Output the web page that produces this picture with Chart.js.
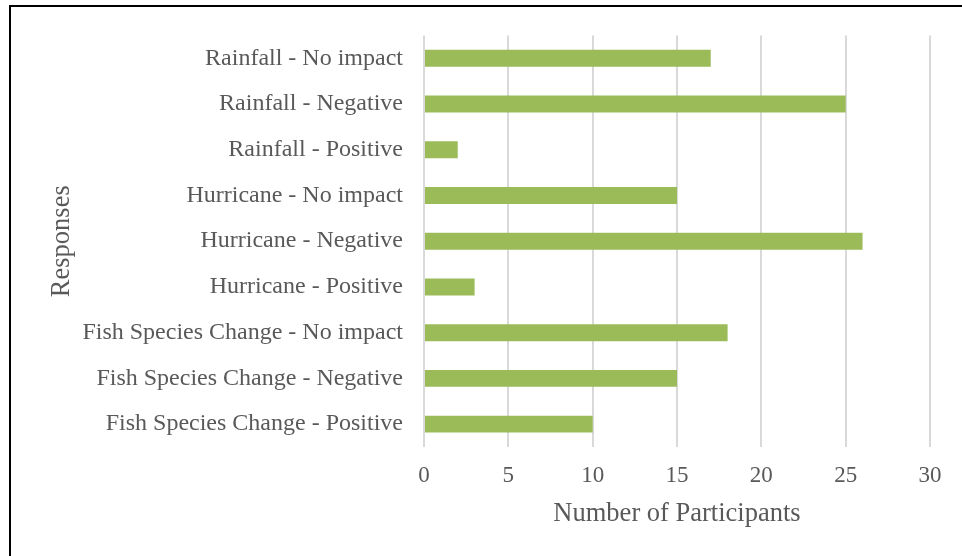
<!DOCTYPE html>
<html>
<head>
<meta charset="utf-8">
<script src="https://cdn.jsdelivr.net/npm/chart.js@4/dist/chart.umd.min.js"></script>
<style>
html,body{margin:0;padding:0;background:#fff;}
#wrap{position:relative;width:962px;height:556px;}
#frame{position:absolute;left:9px;top:5px;width:960px;height:560px;border-top:2px solid #000;border-left:2px solid #000;box-sizing:border-box;pointer-events:none;}
canvas{position:absolute;left:0;top:0;}
</style>
</head>
<body>
<div id="wrap">
<canvas id="c" width="962" height="556"></canvas>
<div id="frame"></div>
</div>
<script>
const categories = [
  "Rainfall - No impact",
  "Rainfall - Negative",
  "Rainfall - Positive",
  "Hurricane - No impact",
  "Hurricane - Negative",
  "Hurricane - Positive",
  "Fish Species Change - No impact",
  "Fish Species Change - Negative",
  "Fish Species Change - Positive"
];
const participants = [17, 25, 2, 15, 26, 3, 18, 15, 10];
const xTicks = [0, 5, 10, 15, 20, 25, 30];
const xTitle = "Number of Participants";
const yTitle = "Responses";

const FONT = "'Liberation Serif', 'Times New Roman', serif";
const GRAY = "#595959";

new Chart(document.getElementById('c'), {
  type: 'bar',
  data: {
    labels: categories,
    datasets: [{
      data: participants,
      backgroundColor: '#9BBB59',
      borderWidth: 0,
      categoryPercentage: 1,
      barPercentage: 0.37
    }]
  },
  options: {
    indexAxis: 'y',
    responsive: false,
    animation: false,
    layout: { padding: { top: 35, right: 32, left: 0, bottom: 0 } },
    plugins: { legend: { display: false }, tooltip: { enabled: false } },
    scales: {
      x: {
        min: 0, max: 30,
        afterBuildTicks: (s) => { s.ticks = xTicks.map(v => ({ value: v })); },
        afterFit: (s) => { s.height = 109; },
        border: { display: false },
        grid: { color: '#d9d9d9', lineWidth: 2, drawTicks: false },
        ticks: { color: GRAY, font: { family: FONT, size: 23 }, padding: 15, maxRotation: 0 },
        title: { display: true, text: xTitle, color: GRAY, font: { family: FONT, size: 26.5 }, padding: { top: 0, bottom: 26 } }
      },
      y: {
        afterFit: (s) => { s.width = 424; },
        border: { display: false },
        grid: { display: false, drawTicks: false },
        ticks: { color: GRAY, font: { family: FONT, size: 24 }, padding: 21, autoSkip: false },
        title: { display: true, text: yTitle, color: GRAY, font: { family: FONT, size: 26.5 }, padding: { top: 46, bottom: 0 } }
      }
    }
  }
});
</script>
</body>
</html>
